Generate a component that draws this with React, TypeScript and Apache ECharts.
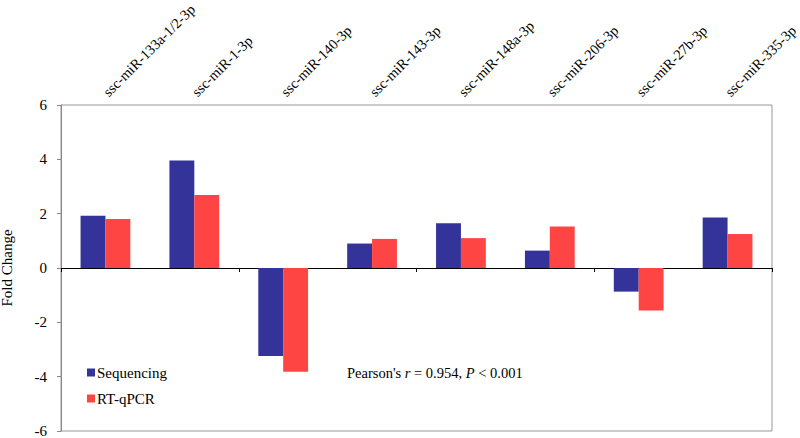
import React, { useEffect, useRef } from "react";
import * as echarts from "echarts";

const categories = [
  "ssc-miR-133a-1/2-3p",
  "ssc-miR-1-3p",
  "ssc-miR-140-3p",
  "ssc-miR-143-3p",
  "ssc-miR-148a-3p",
  "ssc-miR-206-3p",
  "ssc-miR-27b-3p",
  "ssc-miR-335-3p",
];
const sequencing = [1.92, 3.96, -3.24, 0.9, 1.65, 0.64, -0.87, 1.86];
const rtqpcr = [1.8, 2.69, -3.82, 1.07, 1.1, 1.53, -1.56, 1.25];
const yTicks = { min: -6, max: 6, interval: 2 };

const FONT = "Liberation Serif";

export default function App() {
  const ref = useRef<HTMLDivElement>(null);
  useEffect(() => {
    document.body.style.margin = "0";
    if (!ref.current) return;
    const chart = echarts.init(ref.current, undefined, { renderer: "svg" });
    chart.setOption({
      animation: false,
      textStyle: { fontFamily: FONT },
      grid: {
        left: 61,
        right: 28,
        top: 105,
        bottom: 7,
        containLabel: false,
        outerBoundsMode: "none",
        show: true,
        borderColor: "#999",
        borderWidth: 1,
      },
      legend: {
        orient: "vertical",
        left: 82,
        top: 360,
        itemWidth: 8,
        itemHeight: 8,
        itemGap: 11,
        icon: "rect",
        textStyle: { fontFamily: FONT, fontSize: 15, color: "#000", padding: [0, 0, 0, -3] },
        data: ["Sequencing", "RT-qPCR"],
      },
      xAxis: [
        {
          type: "category",
          data: categories,
          position: "bottom",
          axisLine: { onZero: true, lineStyle: { color: "#000", width: 1 } },
          axisTick: { show: true, length: 4, lineStyle: { color: "#000" } },
          axisLabel: { show: false },
          splitLine: { show: false },
        },
        {
          type: "category",
          data: categories,
          position: "top",
          axisLine: { show: false },
          axisTick: { show: false },
          axisLabel: {
            show: true,
            rotate: -45,
            margin: 11,
            fontFamily: FONT,
            fontSize: 14.5,
            color: "#000",
            interval: 0,
            hideOverlap: false,
          },
        },
      ],
      yAxis: {
        type: "value",
        min: yTicks.min,
        max: yTicks.max,
        interval: yTicks.interval,
        name: "Fold Change",
        nameLocation: "middle",
        nameGap: 47,
        nameTextStyle: { fontFamily: FONT, fontSize: 15, color: "#000" },
        axisLine: { show: true, lineStyle: { color: "#888" } },
        axisTick: { show: true, length: 4, lineStyle: { color: "#888" } },
        axisLabel: { fontFamily: FONT, fontSize: 15, color: "#000", margin: 14 },
        splitLine: { show: false },
      },
      series: [
        {
          name: "Sequencing",
          type: "bar",
          data: sequencing,
          xAxisIndex: 0,
          barGap: "0%",
          barCategoryGap: "44%",
          itemStyle: { color: "#333399" },
        },
        {
          name: "RT-qPCR",
          type: "bar",
          data: rtqpcr,
          xAxisIndex: 0,
          barGap: "0%",
          barCategoryGap: "44%",
          itemStyle: { color: "#FF4444" },
        },
      ],
      graphic: [
        {
          type: "text",
          left: 347,
          top: 365,
          style: {
            text: "Pearson's {i|r} = 0.954, {i|P} < 0.001",
            font: `14.5px ${FONT}`,
            fill: "#000",
            rich: {
              i: { fontStyle: "italic", fontFamily: FONT, fontSize: 14.5 },
            },
          },
        },
      ],
    });
    return () => chart.dispose();
  }, []);
  return <div ref={ref} style={{ width: 800, height: 438 }} />;
}
